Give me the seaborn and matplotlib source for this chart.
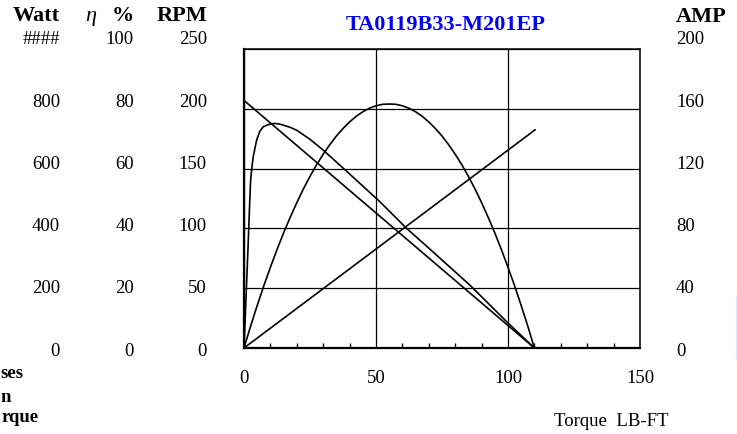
import pandas as pd
import seaborn as sns
import matplotlib.pyplot as plt
from matplotlib.lines import Line2D
from matplotlib.ticker import MultipleLocator

# values
torque_speed = [0, 110]
rpm = [207, 0]

torque_amp = [0, 110.3]
amp = [0, 146]

torque_watt = [0, 2.5, 5, 7.5, 10, 12.5, 15, 17.5, 20, 22.5, 25, 27.5, 30,
               32.5, 35, 37.5, 40, 42.5, 45, 47.5, 50, 52.5, 55, 57.5, 60,
               62.5, 65, 67.5, 70, 72.5, 75, 77.5, 80, 82.5, 85, 87.5, 90,
               92.5, 95, 97.5, 100, 102.5, 105, 107.5, 110]
watt = [0, 73, 142, 208, 270, 329, 385, 437, 486, 532, 574, 613, 648,
        680, 709, 734, 756, 775, 790, 802, 810, 815, 816, 815, 810,
        802, 790, 775, 756, 734, 709, 680, 648, 613, 574, 532, 486,
        437, 385, 329, 270, 208, 142, 73, 0]

torque_eff = [0, 1, 1.5, 2, 2.5, 3, 3.5, 4.8, 6, 7.3, 9.5, 11.7, 13.5, 15,
              17.5, 20, 25, 30, 40, 51.5, 61.6, 70, 85.6, 99.5, 110]
eff = [0, 22, 33, 45, 56, 60.5, 64, 69.6, 72.5, 74, 74.8, 75.1, 74.9, 74.5,
       73.8, 72.8, 69.8, 66.2, 58.2, 48.9, 40, 33.4, 21, 8.8, 0]

watt_labels = ['####', '800', '600', '400', '200', '0']
eff_labels = ['100', '80', '60', '40', '20', '0']
rpm_labels = ['250', '200', '150', '100', '50', '0']
amp_labels = ['200', '160', '120', '80', '40', '0']
x_ticks = [0, 50, 100, 150]

title = 'TA0119B33-M201EP'

sns.set_style('white')
plt.rcParams['font.family'] = ['Liberation Serif', 'DejaVu Serif']
plt.rcParams['font.size'] = 13.5
plt.rcParams['text.color'] = 'black'
plt.rcParams['xtick.color'] = 'black'
plt.rcParams['ytick.color'] = 'black'

W, H = 737, 434
fig = plt.figure(figsize=(W / 100, H / 100), dpi=100)


def fx(px):
    return px / W


def fy(py):
    return 1 - py / H


ax = fig.add_axes([fx(244), fy(348), fx(640) - fx(244), fy(49) - fy(348)])

speed_df = pd.DataFrame({'Torque': torque_speed, 'RPM': rpm})
sns.lineplot(data=speed_df, x='Torque', y='RPM', ax=ax, color='black', lw=1.2)
ax.set_xlim(0, 150)
ax.set_ylim(0, 250)
ax.set_xticks(x_ticks)
ax.set_yticks([0, 50, 100, 150, 200, 250])
ax.set_yticklabels([])
ax.xaxis.set_minor_locator(MultipleLocator(10))
ax.tick_params(axis='x', which='major', direction='in', length=0, pad=16,
               labelcolor='black')
ax.tick_params(axis='x', which='minor', direction='in', length=3.5, width=1,
               bottom=True, color='black')
ax.tick_params(axis='y', length=0)
ax.grid(True, which='major', color='black', lw=0.9)
ax.set_xlabel('')
ax.set_ylabel('')
for side in ['left', 'bottom']:
    ax.spines[side].set_linewidth(1.6)
    ax.spines[side].set_color('black')
for side in ['top', 'right']:
    ax.spines[side].set_linewidth(1.1)
    ax.spines[side].set_color('black')

# other series on their own scales, sharing the plot area
ax_a = ax.twinx()
sns.lineplot(x=torque_amp, y=amp, ax=ax_a, color='black', lw=1.2)
ax_a.set_ylim(0, 200)

ax_w = ax.twinx()
sns.lineplot(x=torque_watt, y=watt, ax=ax_w, color='black', lw=1.2)
ax_w.set_ylim(0, 1000)

ax_e = ax.twinx()
sns.lineplot(x=torque_eff, y=eff, ax=ax_e, color='black', lw=1.2)
ax_e.set_ylim(0, 100)

for t in [ax_a, ax_w, ax_e]:
    t.set_xlim(0, 150)
    t.set_axis_off()

# scale label columns
lab_bottom, lab_top = fy(349), fy(38)


def label_column(xpx, labels, right=False):
    la = fig.add_axes([fx(xpx), lab_bottom, 0.0001, lab_top - lab_bottom])
    la.set_ylim(0, len(labels) - 1)
    la.set_yticks(range(len(labels)))
    la.set_yticklabels(labels[::-1])
    la.set_xticks([])
    la.patch.set_visible(False)
    for s in la.spines.values():
        s.set_visible(False)
    if right:
        la.yaxis.tick_right()
    la.tick_params(axis='y', length=0, pad=0, labelsize=13.5, labelcolor='black')
    return la


label_column(60, watt_labels)
label_column(134, eff_labels)
label_column(207, rpm_labels)
label_column(676, amp_labels, right=True)

hdr = dict(fontsize=16, fontweight='bold', va='center')
fig.text(fx(60), fy(16), 'Watt', ha='right', **hdr)
fig.text(fx(85), fy(16), 'η', ha='left', fontsize=16, style='italic', va='center')
fig.text(fx(134), fy(16), '%', ha='right', **hdr)
fig.text(fx(207), fy(16), 'RPM', ha='right', **hdr)
fig.text(fx(676), fy(17), 'AMP', ha='left', **hdr)

fig.text(fx(446), fy(25), title, ha='center', va='center', fontsize=16,
         fontweight='bold', color='#0000ff')

fig.text(fx(611), fy(422), 'Torque  LB-FT', ha='center', va='center', fontsize=13.5)

fig.text(fx(24), fy(373), 'ses', ha='right', va='center', fontsize=13.5, fontweight='bold')
fig.text(fx(11), fy(398), 'n', ha='right', va='center', fontsize=13.5, fontweight='bold')
fig.text(fx(39), fy(418), 'rque', ha='right', va='center', fontsize=13.5, fontweight='bold')

fig.add_artist(Line2D([fx(736), fx(736)], [fy(295), fy(358)], color='#c4f4ff', lw=1))

fig.savefig('out.png', dpi=100)
